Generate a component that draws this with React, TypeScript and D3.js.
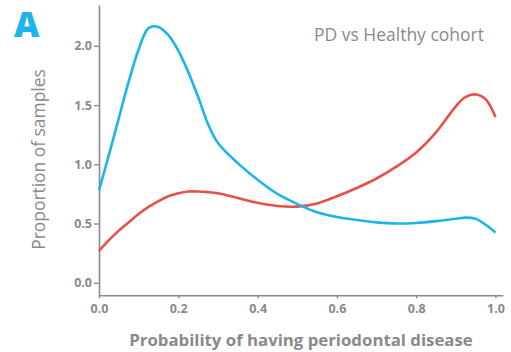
import { useEffect, useRef } from "react"
import * as d3 from "d3"

// probability grid shared by both density curves
const probs = [0, 0.025, 0.05, 0.075, 0.1, 0.125, 0.15, 0.175, 0.2, 0.225, 0.25, 0.275, 0.3, 0.35, 0.4, 0.45, 0.5, 0.55, 0.6, 0.65, 0.7, 0.75, 0.8, 0.85, 0.9, 0.925, 0.95, 0.975, 1.0]
const healthy = [0.78, 1.08, 1.39, 1.7, 1.97, 2.15, 2.16, 2.09, 1.96, 1.78, 1.57, 1.34, 1.18, 1.01, 0.87, 0.75, 0.665, 0.595, 0.555, 0.53, 0.51, 0.5, 0.505, 0.52, 0.54, 0.55, 0.54, 0.49, 0.425]
const pd = [0.27, 0.36, 0.44, 0.51, 0.58, 0.64, 0.69, 0.73, 0.755, 0.77, 0.77, 0.765, 0.755, 0.715, 0.675, 0.648, 0.643, 0.67, 0.73, 0.8, 0.88, 0.98, 1.1, 1.27, 1.49, 1.57, 1.59, 1.55, 1.4]
const xTicks = [0, 0.2, 0.4, 0.6, 0.8, 1.0]
const yTicks = [0, 0.5, 1.0, 1.5, 2.0]

const W = 511
const H = 352

export default function App() {
    const svgRef = useRef<SVGSVGElement>(null)

    useEffect(() => {
        if (!svgRef.current) return
        const svg = d3.select(svgRef.current)
        svg.selectAll("*").remove()

        const gray = "#8a8a8a"
        const font = "'Open Sans', Lato, sans-serif"

        const x = d3.scaleLinear().domain([0, 1.019]).range([99, 503])
        const y = d3.scaleLinear().domain([-0.106, 2.345]).range([295.3, 5])

        // axes
        const xAxis = svg.append("g")
            .attr("transform", `translate(0,${y(-0.106)})`)
            .call(d3.axisBottom(x).tickValues(xTicks).tickSize(3).tickSizeOuter(0).tickFormat(d3.format(".1f")))
        const yAxis = svg.append("g")
            .attr("transform", `translate(${x(0)},0)`)
            .call(d3.axisLeft(y).tickValues(yTicks).tickSize(5).tickSizeOuter(0).tickFormat(d3.format(".1f")))

        for (const ax of [xAxis, yAxis]) {
            ax.select(".domain").attr("stroke", gray).attr("stroke-width", 1.6)
            ax.selectAll(".tick line").attr("stroke", gray).attr("stroke-width", 1.4)
            ax.selectAll(".tick text")
                .attr("fill", gray)
                .style("font-family", font)
                .style("font-size", "12.5px")
                .style("font-weight", "700")
        }
        xAxis.selectAll(".tick text").attr("dy", "0.9em")
        yAxis.selectAll(".tick text").attr("x", -7)

        const line = (vals: number[]) => d3.line<number>()
            .x((_, i) => x(probs[i]))
            .y(d => y(d))
            .curve(d3.curveCatmullRom.alpha(0.5))(vals)

        svg.append("path")
            .attr("d", line(pd))
            .attr("fill", "none")
            .attr("stroke", "#e8504a")
            .attr("stroke-width", 2.6)

        svg.append("path")
            .attr("d", line(healthy))
            .attr("fill", "none")
            .attr("stroke", "#1cb5ea")
            .attr("stroke-width", 2.6)

        svg.append("text")
            .attr("x", 301)
            .attr("y", 346)
            .attr("text-anchor", "middle")
            .attr("fill", gray)
            .style("font-family", font)
            .style("font-size", "16.8px")
            .style("font-weight", "700")
            .text("Probability of having periodontal disease")

        svg.append("text")
            .attr("transform", "translate(45,159.5) rotate(-90)")
            .attr("text-anchor", "middle")
            .attr("fill", gray)
            .style("font-family", font)
            .style("font-size", "17.4px")
            .text("Proportion of samples")

        svg.append("text")
            .attr("x", 484)
            .attr("y", 41)
            .attr("text-anchor", "end")
            .attr("fill", gray)
            .style("font-family", font)
            .style("font-size", "17.5px")
            .text("PD vs Healthy cohort")

        svg.append("text")
            .attr("x", 14)
            .attr("y", 37)
            .attr("fill", "#1cb4ea")
            .style("font-family", font)
            .style("font-size", "35px")
            .style("font-weight", "800")
            .text("A")
    }, [])

    return (
        <div style={{ position: "absolute", left: 0, top: 0 }}>
            <svg ref={svgRef} width={W} height={H} style={{ display: "block", background: "#fff" }} />
        </div>
    )
}
